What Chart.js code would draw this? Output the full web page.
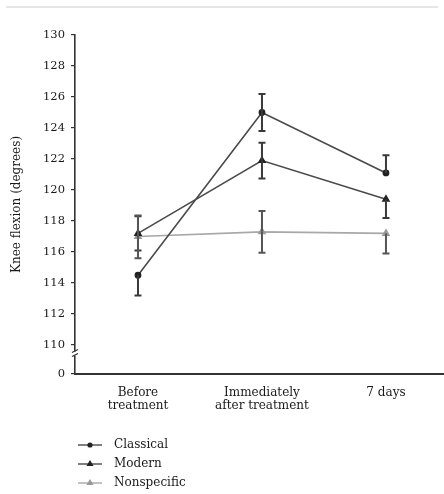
<!DOCTYPE html>
<html>
<head>
<meta charset="utf-8">
<script src="https://cdn.jsdelivr.net/npm/chart.js@4"></script>
<style>
  html, body { margin: 0; padding: 0; background: #fff; }
  #wrap { position: relative; width: 444px; height: 494px; }
  #topline { position: absolute; left: 6px; top: 6px; width: 432px; height: 2px; background: #e6e6e6; }
  canvas { position: absolute; left: 0; top: 0; }
</style>
</head>
<body>
<div id="wrap">
  <canvas id="c" width="444" height="494"></canvas>
  <div id="topline"></div>
</div>
<script>
// ---- Data ----
const categories = [['Before', 'treatment'], ['Immediately', 'after treatment'], '7 days'];
const seriesNames = ['Classical', 'Modern', 'Nonspecific'];

const classical = [114.5, 125.0, 121.1];
const modern = [117.2, 121.9, 119.4];
const nonspecific = [117.0, 117.3, 117.2];

// error bars (upper / lower half); 0 = half not drawn in the reference
const classicalErrUp = [0, 1.2, 1.15];
const classicalErrDown = [1.3, 1.2, 0];
const modernErrUp = [1.1, 1.15, 0];
const modernErrDown = [1.1, 1.15, 1.2];
const nonspecificErrUp = [1.35, 1.35, 0];
const nonspecificErrDown = [1.4, 1.35, 1.3];

const yTicks = [110, 112, 114, 116, 118, 120, 122, 124, 126, 128, 130];
const yBreakMin = 108.13;   // bottom of the broken axis, labelled "0"
const yBreakLabel = '0';

const FONT = '"DejaVu Serif", "Liberation Serif", serif';
const TEXT = '#1a1a1a';

function toPoints(arr) { return arr.map((v, i) => ({ x: i, y: v })); }

const errorBarPlugin = {
  id: 'errorBars',
  afterDatasetsDraw(chart) {
    const ctx = chart.ctx;
    const ys = chart.scales.y, xs = chart.scales.x;
    chart.data.datasets.forEach((ds, di) => {
      const meta = chart.getDatasetMeta(di);
      if (meta.hidden) return;
      ctx.save();
      ctx.strokeStyle = ds.errColor;
      ctx.lineWidth = 2;
      ds.data.forEach((p, i) => {
        const x = xs.getPixelForValue(p.x);
        const yc = ys.getPixelForValue(p.y);
        const up = ds.errUp[i], dn = ds.errDown[i];
        const cap = 3.5;
        if (up > 0) {
          const yt = ys.getPixelForValue(p.y + up);
          ctx.beginPath(); ctx.moveTo(x, yc); ctx.lineTo(x, yt);
          ctx.moveTo(x - cap, yt); ctx.lineTo(x + cap, yt); ctx.stroke();
        }
        if (dn > 0) {
          const yb = ys.getPixelForValue(p.y - dn);
          ctx.beginPath(); ctx.moveTo(x, yc); ctx.lineTo(x, yb);
          ctx.moveTo(x - cap, yb); ctx.lineTo(x + cap, yb); ctx.stroke();
        }
      });
      ctx.restore();
    });
  }
};

const axisBreakPlugin = {
  id: 'axisBreak',
  afterDraw(chart) {
    const ctx = chart.ctx, ys = chart.scales.y;
    const x = chart.chartArea.left;
    const yc = ys.getPixelForValue(109.45);
    ctx.save();
    ctx.fillStyle = '#fff';
    ctx.fillRect(x - 2, yc - 2, 4, 4);
    ctx.strokeStyle = '#333';
    ctx.lineWidth = 1.3;
    ctx.beginPath();
    ctx.moveTo(x - 3, yc - 1); ctx.lineTo(x + 3, yc - 4);
    ctx.moveTo(x - 3, yc + 3); ctx.lineTo(x + 3, yc);
    ctx.stroke();
    ctx.restore();
  }
};

const legendPlugin = {
  id: 'leftLegend',
  afterDraw(chart) {
    const ctx = chart.ctx;
    ctx.save();
    chart.data.datasets.forEach((ds, i) => {
      const y = 445 + i * 19;
      ctx.strokeStyle = ds.borderColor;
      ctx.lineWidth = 1.4;
      ctx.beginPath(); ctx.moveTo(78, y); ctx.lineTo(102, y); ctx.stroke();
      ctx.fillStyle = ds.pointBackgroundColor;
      ctx.strokeStyle = ds.pointBorderColor;
      Chart.helpers.drawPoint(ctx, { pointStyle: ds.pointStyle, radius: ds.pointRadius - 0.7, rotation: 0, borderWidth: 1 }, 90, y);
      ctx.fillStyle = TEXT;
      ctx.font = '12px ' + FONT;
      ctx.textAlign = 'left';
      ctx.textBaseline = 'middle';
      ctx.fillText(ds.label, 114, y);
    });
    ctx.restore();
  }
};

new Chart(document.getElementById('c'), {
  type: 'line',
  data: {
    datasets: [
      { label: seriesNames[0], data: toPoints(classical), errUp: classicalErrUp, errDown: classicalErrDown,
        borderColor: '#4a4a4a', borderWidth: 1.6, pointStyle: 'circle', pointRadius: 2.6,
        pointBackgroundColor: '#222', pointBorderColor: '#222', errColor: '#3a3a3a' },
      { label: seriesNames[1], data: toPoints(modern), errUp: modernErrUp, errDown: modernErrDown,
        borderColor: '#4a4a4a', borderWidth: 1.6, pointStyle: 'triangle', pointRadius: 3.4,
        pointBackgroundColor: '#222', pointBorderColor: '#222', errColor: '#3a3a3a' },
      { label: seriesNames[2], data: toPoints(nonspecific), errUp: nonspecificErrUp, errDown: nonspecificErrDown,
        borderColor: '#a8a8a8', borderWidth: 1.6, pointStyle: 'triangle', pointRadius: 3.4,
        pointBackgroundColor: '#9a9a9a', pointBorderColor: '#9a9a9a', errColor: '#555' }
    ]
  },
  options: {
    responsive: false,
    animation: false,
    events: [],
    layout: { autoPadding: false, padding: { top: 35, right: 0, bottom: 70, left: 0 } },
    plugins: { legend: { display: false }, tooltip: { enabled: false } },
    scales: {
      x: {
        type: 'linear',
        min: -0.508,
        max: 2.468,
        afterBuildTicks(scale) { scale.ticks = categories.map((c, i) => ({ value: i })); },
        afterFit(scale) { scale.height = 50; scale.paddingLeft = 0; scale.paddingRight = 0; },
        grid: { display: false, drawTicks: false },
        border: { display: true, color: '#333', width: 2 },
        ticks: {
          padding: 12,
          color: TEXT,
          font: { family: FONT, size: 12, lineHeight: 1.08 },
          maxRotation: 0,
          autoSkip: false,
          callback: (v) => categories[v]
        }
      },
      y: {
        min: yBreakMin,
        max: 130,
        afterBuildTicks(scale) {
          scale.ticks = [{ value: yBreakMin }].concat(yTicks.map(v => ({ value: v })));
        },
        afterFit(scale) { scale.width = 75; scale.paddingTop = 0; scale.paddingBottom = 0; },
        grid: { drawOnChartArea: false, drawTicks: true, tickLength: 4, color: '#333', lineWidth: 1.2 },
        border: { display: true, color: '#333', width: 1.6 },
        ticks: {
          padding: 6,
          color: TEXT,
          font: { family: FONT, size: 11.5 },
          autoSkip: false,
          callback: (v) => (v === yBreakMin ? yBreakLabel : String(v))
        },
        title: {
          display: true,
          text: 'Knee flexion (degrees)',
          color: TEXT,
          font: { family: FONT, size: 12 },
          padding: { top: 10, bottom: 0 }
        }
      }
    }
  },
  plugins: [errorBarPlugin, axisBreakPlugin, legendPlugin]
});
</script>
</body>
</html>
